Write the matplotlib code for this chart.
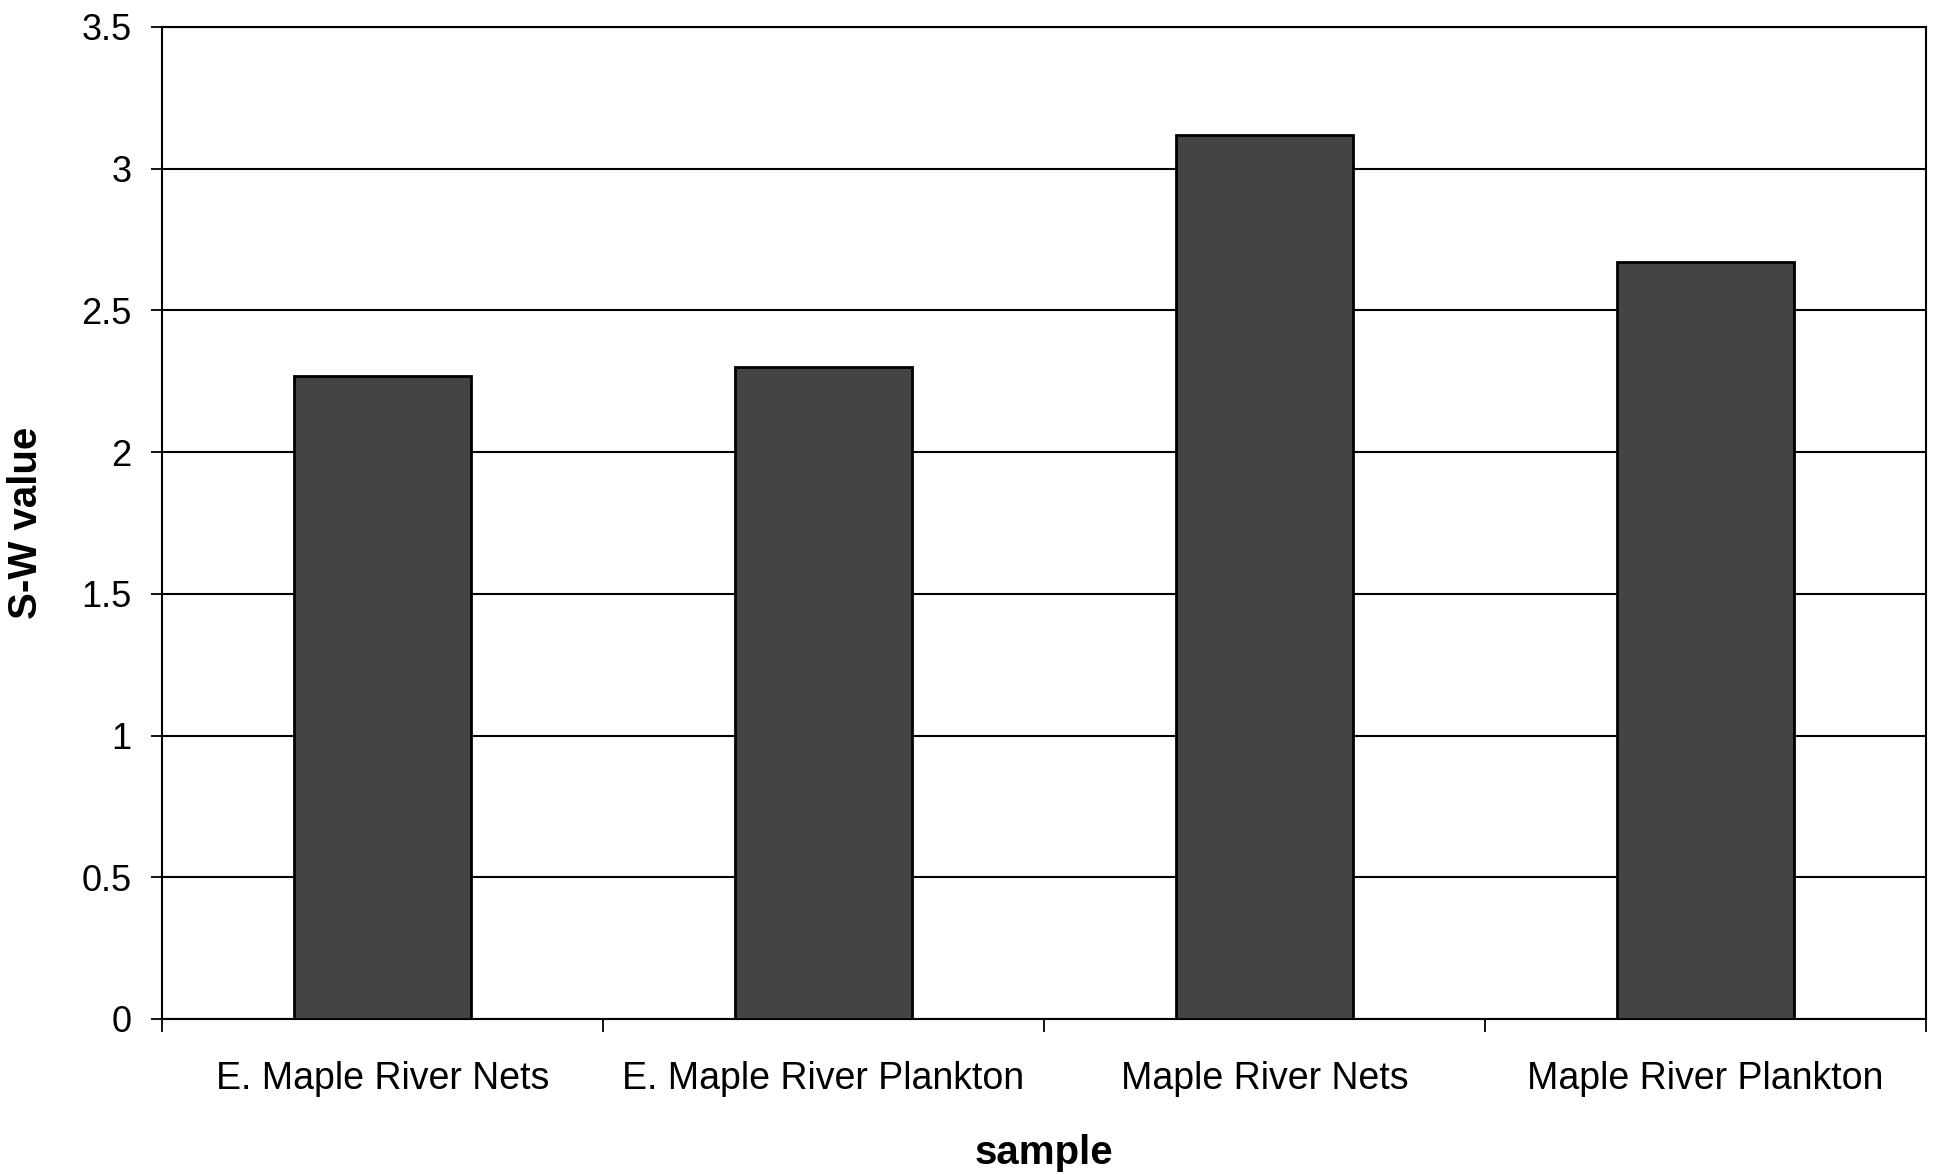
import matplotlib
matplotlib.use("Agg")
import matplotlib.pyplot as plt
import numpy as np

categories = ["E. Maple River Nets", "E. Maple River Plankton", "Maple River Nets", "Maple River Plankton"]
sw_values = [2.27, 2.30, 3.12, 2.67]
y_ticks = [0, 0.5, 1, 1.5, 2, 2.5, 3, 3.5]
y_ticklabels = ["0", "0.5", "1", "1.5", "2", "2.5", "3", "3.5"]

plt.rcParams['font.family'] = ['Liberation Sans', 'DejaVu Sans']

W, H = 1942, 1175
fig = plt.figure(figsize=(W / 100, H / 100), dpi=100)
ax = fig.add_axes([162 / W, 1 - 1019 / H, (1926 - 162) / W, (1019 - 27) / H])

x = np.arange(len(categories))
ax.bar(x, sw_values, width=0.40, color='#444444', edgecolor='black', linewidth=2, zorder=3)

ax.set_xlim(-0.5, len(categories) - 0.5)
ax.set_ylim(0, 3.5)
ax.set_yticks(y_ticks)
ax.set_yticklabels(y_ticklabels)
ax.yaxis.grid(True, color='black', linewidth=1.5)
ax.set_axisbelow(True)

# category boundaries as major ticks, labels at centers as minor ticks
ax.set_xticks(np.arange(-0.5, len(categories), 1.0))
ax.set_xticklabels([])
ax.set_xticks(x, minor=True)
ax.set_xticklabels(categories, minor=True)
ax.tick_params(axis='x', which='major', length=9, width=1.3, direction='out')
ax.tick_params(axis='x', which='minor', length=0, pad=30, labelsize=27)
ax.tick_params(axis='y', which='major', length=8, width=1.3, direction='out', pad=14, labelsize=26)

for s in ax.spines.values():
    s.set_color('black')
    s.set_linewidth(1.5)

ax.set_xlabel("sample", fontsize=29, fontweight='bold', labelpad=27)
ax.set_ylabel("S-W value", fontsize=29, fontweight='bold', labelpad=26)

fig.savefig("out.png", dpi=100, facecolor='white')
